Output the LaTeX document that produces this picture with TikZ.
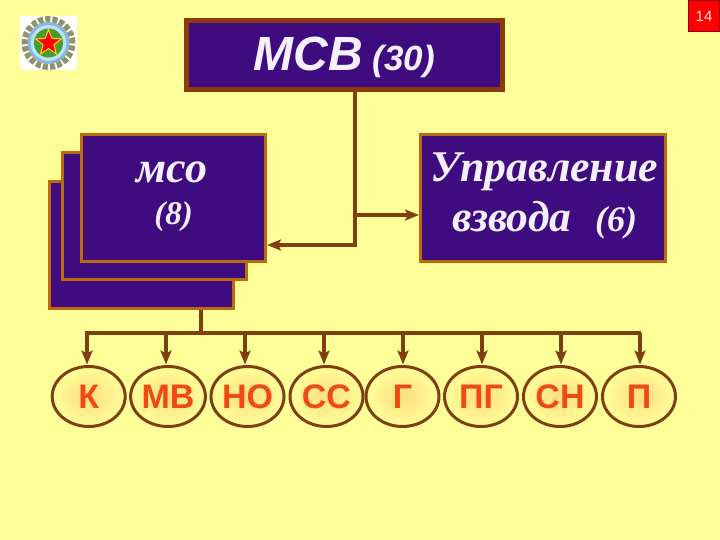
\documentclass[tikz,border=0pt]{standalone}
\usepackage{fontspec}
\setmainfont{Liberation Serif}
\setsansfont{Liberation Sans}
\usetikzlibrary{arrows.meta,shapes.geometric}
\definecolor{bgy}{HTML}{FFFF99}
\definecolor{purp}{HTML}{3F0C80}
\definecolor{edgeA}{HTML}{8C3A0C}
\definecolor{edgeB}{HTML}{BC6A12}
\definecolor{lineC}{HTML}{7F3F10}
\definecolor{ovalT}{HTML}{F04A12}
\definecolor{glow}{HTML}{FFDC80}
\definecolor{lilac}{HTML}{F4F0FF}
\definecolor{gearC}{HTML}{8E9468}
\definecolor{ringC}{HTML}{8FB4DC}
\definecolor{discC}{HTML}{4E9A2C}
\newcommand{\fs}[1]{\fontsize{#1}{#1}\selectfont}
\tikzset{
  x=1pt,y=-1pt,
  topbox/.style={draw=edgeA,line width=5pt,fill=purp,rectangle,inner sep=0pt,minimum width=316pt,minimum height=69pt},
  subbox/.style={draw=edgeB,line width=3pt,fill=purp,rectangle,inner sep=0pt,minimum width=184pt,minimum height=127pt},
  lbl/.style={text=lilac,inner sep=0pt,anchor=base},
  conn/.style={draw=lineC,line width=3.2pt,line cap=butt,line join=miter},
  tip/.style={-{Stealth[length=14pt,width=11pt,inset=3pt]}},
  oval/.style={ellipse,draw=lineC,line width=3pt,inner sep=0pt,minimum width=73pt,minimum height=60pt,
    shading=radial,inner color=glow,outer color=bgy,
    text=ovalT,font=\sffamily\bfseries\fs{34}},
}
\begin{document}
\begin{tikzpicture}
\useasboundingbox (0,0) rectangle (720,540);
\fill[bgy] (0,0) rectangle (720,540);
% page number
\node[rectangle,draw=red!55!black,line width=1pt,fill=red,minimum width=31pt,minimum height=31pt,inner sep=0pt,
  text=orange!20!white,font=\sffamily\fs{15}] (pagenum) at (704,16) {14};
% emblem
\node[rectangle,fill=white,minimum width=57pt,minimum height=54pt,inner sep=0pt] (emblem) at (48.5,43) {};
\node[circle,draw=gearC,dashed,dash pattern=on 5pt off 2pt,line width=7pt,minimum size=47pt,inner sep=0pt] (emgear) at (emblem.center) {};
\node[circle,draw=ringC,line width=3pt,fill=white!70!cyan,minimum size=39pt,inner sep=0pt] (emring) at (emblem.center) {};
\node[circle,fill=discC,minimum size=29pt,inner sep=0pt] (emdisc) at (emblem.center) {};
\node[star,star points=5,star point ratio=2.4,fill=red,draw=yellow!85!orange,line width=.9pt,minimum size=27pt,inner sep=0pt] (emstar) at (emblem.center) {};
% top box
\node[topbox] (msv) at (344.5,55) {};
\node[lbl,font=\sffamily\bfseries\itshape\fs{48}] (msvt) at (308.5,71) {МСВ};
\node[lbl,font=\sffamily\bfseries\itshape\fs{35}] (msvn) at (404,71) {(30)};
% stack
\node[subbox] (mso3) at (141.5,245) {};
\node[subbox] (mso2) at (154,216) {};
\node[subbox] (mso1) at (173.5,198) {};
\node[lbl,font=\itshape\bfseries\fs{44}] (msot) at (172,183) {мсо};
\node[lbl,font=\itshape\bfseries\fs{33}] (mson) at (173.5,225) {(8)};
% platoon control
\node[subbox,minimum width=245pt] (upr) at (543,198) {};
\node[lbl,font=\itshape\bfseries\fs{43.8}] (uprt) at (544.5,182) {Управление};
\node[lbl,font=\itshape\bfseries\fs{43.5},anchor=base west] (uprv) at (452,232) {взвода};
\node[lbl,font=\itshape\bfseries\fs{36},anchor=base west] (uprn) at (595,232) {(6)};
% ovals
\node[oval] (k) at (88.7,396.5) {К};
\node[oval] (mv) at (168,396.5) {МВ};
\node[oval] (no) at (247.5,396.5) {НО};
\node[oval] (ss) at (326.5,396.5) {СС};
\node[oval] (g) at (402.5,396.5) {Г};
\node[oval] (pg) at (481,396.5) {ПГ};
\node[oval] (sn) at (560,396.5) {СН};
\node[oval] (p) at (639,396.5) {П};
% connectors
\coordinate (trunk) at (355,245);
\coordinate (tee) at (355,215);
\draw[conn] (msv.south -| trunk) -- ([yshift=1.6pt]trunk.center);
\draw[conn,tip,line width=3.6pt] (trunk.center) ++(1.6pt,0) -- (mso1.east |- trunk);
\draw[conn,tip] (tee.center) -- (upr.west |- tee);
\coordinate (bus) at (201,333);
\coordinate (busL) at (87,333);
\coordinate (busR) at (641,333);
\draw[conn] (mso3.south -| bus) -- (bus.center);
\draw[conn] ([xshift=-1.6pt]busL.center) -- (busR.center);
\foreach \n/\x in {k/87,mv/166,no/245,ss/324,g/403,pg/482,sn/561,p/640}{
  \coordinate (d\n) at (\x,333);
  \draw[conn,tip] (d\n.center) -- (d\n.center |- 0,364.5);
}
\end{tikzpicture}
\end{document}
